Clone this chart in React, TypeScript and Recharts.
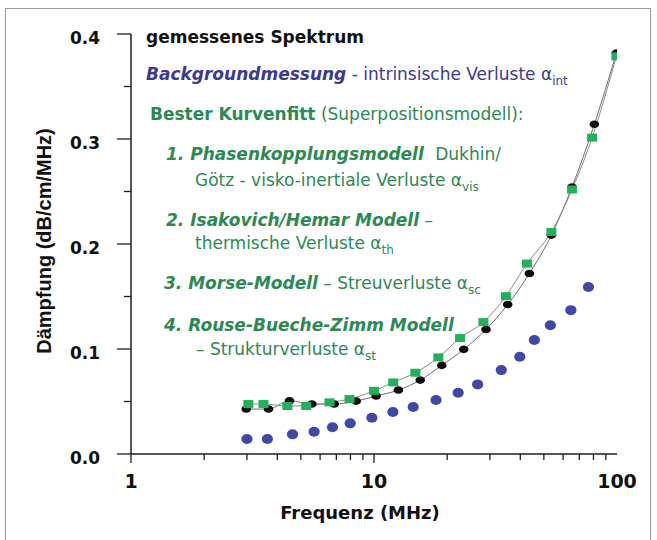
import React from 'react';
import { ComposedChart, Line, XAxis, YAxis } from 'recharts';

// Backgroundmessung (intrinsische Verluste)
const bgFreq = [3.0, 3.64, 4.62, 5.67, 6.75, 7.98, 9.8, 11.96, 14.5, 18.0, 22.2, 26.7, 33.4, 39.8, 45.7, 53.2, 64.6, 76.3];
const bgVal = [0.0143, 0.0143, 0.0187, 0.0212, 0.0254, 0.0292, 0.0345, 0.04, 0.0447, 0.0514, 0.0583, 0.0663, 0.0799, 0.0926, 0.1085, 0.1227, 0.137, 0.159];

// gemessenes Spektrum
const measFreq = [2.98, 3.68, 4.49, 5.55, 6.86, 8.45, 10.2, 12.6, 15.5, 19.0, 23.4, 28.9, 35.5, 43.6, 53.7, 65.3, 80.7, 99.4];
const measVal = [0.0428, 0.0428, 0.0507, 0.0476, 0.0476, 0.0504, 0.0552, 0.0609, 0.0704, 0.0844, 0.0996, 0.1186, 0.1424, 0.1719, 0.2084, 0.2543, 0.314, 0.3818];

// Bester Kurvenfitt
const fitFreq = [3.04, 3.51, 4.4, 5.26, 6.56, 7.93, 10.0, 12.0, 14.8, 18.4, 22.6, 28.2, 34.9, 42.6, 53.7, 65.3, 79.0, 99.4];
const fitVal = [0.0476, 0.0476, 0.0457, 0.0457, 0.0492, 0.0523, 0.0602, 0.0682, 0.0774, 0.092, 0.1104, 0.1256, 0.1503, 0.1814, 0.2115, 0.2519, 0.3013, 0.3787];

const xTicks = [1, 2, 3, 4, 5, 6, 7, 8, 9, 10, 20, 30, 40, 50, 60, 70, 80, 90, 100];
const xLabelled = [1, 10, 100];
const yTicks = [0, 0.05, 0.1, 0.15, 0.2, 0.25, 0.3, 0.35, 0.4];

const BLUE = '#4047a6';
const BLUE_TXT = '#3b3894';
const GREEN = '#22b05c';
const GREEN_TXT = '#2a8a52';
const AXIS = '#1e1e1e';
const FONT = '"DejaVu Sans", sans-serif';

const toPoints = (fs: number[], vs: number[]) => fs.map((f, i) => ({ f, v: vs[i] }));
const bgData = toPoints(bgFreq, bgVal);
const measData = toPoints(measFreq, measVal);
const fitData = toPoints(fitFreq, fitVal);

function XTick(props: any) {
  const { x, y, payload } = props;
  const val = payload.value;
  const major = xLabelled.includes(val);
  return (
    <g>
      {val !== 100 && <line x1={x} x2={x} y1={y} y2={y + (major ? 9 : 6)} stroke={AXIS} strokeWidth={1.3} />}
      {major && (
        <text x={x} y={y + 34} textAnchor="middle" fontFamily={FONT} fontWeight="bold" fontSize={19} fill="#111">
          {val}
        </text>
      )}
    </g>
  );
}

function YTick(props: any) {
  const { x, y, payload } = props;
  const val = payload.value;
  const major = Math.round(val * 100) % 10 === 0;
  return (
    <g>
      <line x1={x - (major ? 14 : 7)} x2={x} y1={y} y2={y} stroke={AXIS} strokeWidth={1.3} />
      {major && (
        <text x={x - 31} y={y + 10} textAnchor="end" fontFamily={FONT} fontWeight="bold" fontSize={17} fill="#111">
          {val.toFixed(1)}
        </text>
      )}
    </g>
  );
}

const blueDot = (p: any) => <ellipse key={`b${p.index}`} cx={p.cx} cy={p.cy} rx={5.6} ry={5} fill={BLUE} />;
const blackDot = (p: any) => <ellipse key={`m${p.index}`} cx={p.cx} cy={p.cy} rx={4.8} ry={3.8} fill="#0c0c0c" />;
const greenDot = (p: any) => <rect key={`g${p.index}`} x={p.cx - 5} y={p.cy - 4} width={10} height={8} fill={GREEN} />;

function Sub({ children }: { children: string }) {
  return (
    <tspan fontSize={12} dy={5}>
      {children}
    </tspan>
  );
}

function Legend() {
  const bi = { fontWeight: 'bold' as const, fontStyle: 'italic' as const };
  return (
    <g fontFamily={FONT} fontSize={17}>
      <text x={146} y={43} fill="#111" fontWeight="bold">gemessenes Spektrum</text>
      <text x={146} y={80} fill={BLUE_TXT}>
        <tspan {...bi}>Backgroundmessung</tspan>
        <tspan> - intrinsische Verluste α</tspan>
        <Sub>int</Sub>
      </text>
      <text x={150} y={120} fill={GREEN_TXT}>
        <tspan fontWeight="bold">Bester Kurvenfitt</tspan>
        <tspan> (Superpositionsmodell):</tspan>
      </text>
      <text x={166} y={160} fill={GREEN_TXT}>
        <tspan {...bi}>1. Phasenkopplungsmodell</tspan>
        <tspan dx={6}> Dukhin/</tspan>
      </text>
      <text x={195} y={186} fill={GREEN_TXT}>
        <tspan>Götz - visko-inertiale Verluste α</tspan>
        <Sub>vis</Sub>
      </text>
      <text x={166} y={226} fill={GREEN_TXT}>
        <tspan {...bi}>2. Isakovich/Hemar Modell</tspan>
        <tspan> –</tspan>
      </text>
      <text x={195} y={249} fill={GREEN_TXT}>
        <tspan>thermische Verluste α</tspan>
        <Sub>th</Sub>
      </text>
      <text x={164} y={289} fill={GREEN_TXT}>
        <tspan {...bi}>3. Morse-Modell</tspan>
        <tspan> – Streuverluste α</tspan>
        <Sub>sc</Sub>
      </text>
      <text x={164} y={331} fill={GREEN_TXT}>
        <tspan {...bi}>4. Rouse-Bueche-Zimm Modell</tspan>
      </text>
      <text x={196} y={355} fill={GREEN_TXT}>
        <tspan>– Strukturverluste α</tspan>
        <Sub>st</Sub>
      </text>
    </g>
  );
}

export default function App() {
  return (
    <div style={{ position: 'absolute', left: 0, top: 0, width: 657, height: 540, background: '#fff', overflow: 'hidden' }}>
      <div style={{ position: 'absolute', left: 5, top: 8, width: 644, height: 545, border: '1px solid #9a9a9a' }} />
      <div style={{ position: 'absolute', left: 0, top: 0 }}>
        <ComposedChart width={657} height={540} margin={{ top: 34, right: 40, bottom: 0, left: 0 }}>
          <XAxis
            type="number"
            dataKey="f"
            scale="log"
            domain={[1, 100]}
            allowDataOverflow
            ticks={xTicks}
            interval={0}
            tick={<XTick />}
            tickLine={false}
            tickSize={0}
            tickMargin={0}
            height={86}
            axisLine={{ stroke: AXIS, strokeWidth: 1.5 }}
          />
          <YAxis
            type="number"
            dataKey="v"
            domain={[0, 0.4]}
            ticks={yTicks}
            interval={0}
            tick={<YTick />}
            tickLine={false}
            tickSize={0}
            tickMargin={0}
            width={131}
            axisLine={{ stroke: AXIS, strokeWidth: 1.5 }}
          />
          <Line data={bgData} dataKey="v" stroke="none" dot={blueDot} activeDot={false} isAnimationActive={false} />
          <Line data={measData} dataKey="v" type="monotone" stroke="#6f6f6f" strokeWidth={1} dot={blackDot} activeDot={false} isAnimationActive={false} />
          <Line data={fitData} dataKey="v" type="monotone" stroke="#8a8a8a" strokeWidth={1} dot={greenDot} activeDot={false} isAnimationActive={false} />
        </ComposedChart>
      </div>
      <svg width={657} height={540} style={{ position: 'absolute', left: 0, top: 0, pointerEvents: 'none' }}>
        <Legend />
        <text
          x={0}
          y={0}
          transform="translate(51 241) rotate(-90)"
          textAnchor="middle"
          fontFamily='"Liberation Sans", Arial, sans-serif'
          fontWeight="bold"
          fontSize={20}
          fill="#111"
        >
          Dämpfung (dB/cm/MHz)
        </text>
        <text x={360} y={519} textAnchor="middle" fontFamily={FONT} fontWeight="bold" fontSize={18} fill="#111">
          Frequenz (MHz)
        </text>
      </svg>
    </div>
  );
}
